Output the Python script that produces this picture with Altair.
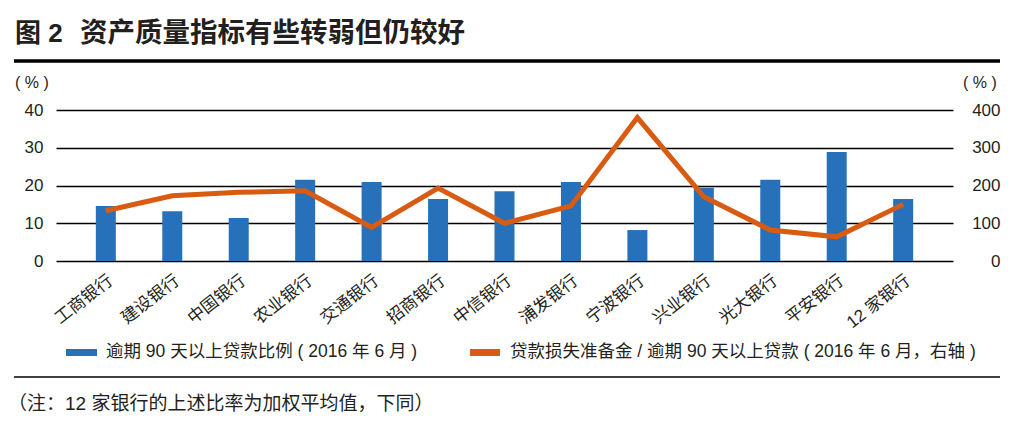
import altair as alt
import pandas as pd

banks = ["工商银行", "建设银行", "中国银行", "农业银行", "交通银行", "招商银行", "中信银行",
         "浦发银行", "宁波银行", "兴业银行", "光大银行", "平安银行", "12 家银行"]
npl90 = [14.6, 13.2, 11.4, 21.5, 20.9, 16.4, 18.5, 20.9, 8.2, 19.4, 21.5, 28.9, 16.4]
coverage = [133, 173, 182, 186, 89, 193, 100, 146, 380, 170, 82, 64, 150]
left_ticks = [0, 10, 20, 30, 40]
right_ticks = [0, 100, 200, 300, 400]

title_num = "图 2"
title_text = "资产质量指标有些转弱但仍较好"
legend_bar = "逾期 90 天以上贷款比例 ( 2016 年 6 月 )"
legend_line = "贷款损失准备金 / 逾期 90 天以上贷款 ( 2016 年 6 月，右轴 )"
note_text = "（注：12 家银行的上述比率为加权平均值，下同）"
unit_text = "( % )"

FONT = "Liberation Sans, Noto Sans CJK SC"
BLUE = "#2671BA"
ORANGE = "#D95B12"
TXT = "#231F20"

df = pd.DataFrame({"bank": banks, "npl": npl90, "cov": coverage})
one = pd.DataFrame({"k": [0]})

xenc = alt.X("bank:N", sort=banks,
             scale=alt.Scale(paddingInner=0, paddingOuter=0.25),
             axis=alt.Axis(title=None, labelAngle=-38, labelAlign="right", labelBaseline="top",
                           labelPadding=11, labelFontSize=17, domain=False, ticks=False,
                           labelColor=TXT, labelFont=FONT, labelOverlap=False))

bars = alt.Chart(df).mark_bar(size=20, color=BLUE).encode(
    x=xenc,
    y=alt.Y("npl:Q", scale=alt.Scale(domain=[0, 40]),
            axis=alt.Axis(title=None, values=left_ticks, domain=False, ticks=False, grid=True,
                          gridColor="black", gridWidth=1.5, labelFontSize=17, labelPadding=13,
                          labelColor=TXT, labelFont=FONT)),
)

line = alt.Chart(df).mark_line(color=ORANGE, strokeWidth=5, strokeJoin="miter").encode(
    x=alt.X("bank:N", sort=banks),
    y=alt.Y("cov:Q", scale=alt.Scale(domain=[0, 400]),
            axis=alt.Axis(title=None, orient="right", values=right_ticks, domain=False,
                          ticks=False, grid=False, labelFontSize=17, labelPadding=47,
                          labelAlign="right", labelColor=TXT, labelFont=FONT)),
)

def txt(s, x, y, size=17, weight="normal", baseline="middle", align="left"):
    return alt.Chart(one).mark_text(font=FONT, fontSize=size, fontWeight=weight, color=TXT,
                                    baseline=baseline, align=align).encode(
        x=alt.value(x), y=alt.value(y), text=alt.value(s))

def rule(x1, x2, y, w):
    return alt.Chart(one).mark_rule(color="black", strokeWidth=w).encode(
        x=alt.value(x1), x2=alt.value(x2), y=alt.value(y))

def swatch(x1, x2, y1, y2, c):
    return alt.Chart(one).mark_rect(color=c).encode(
        x=alt.value(x1), x2=alt.value(x2), y=alt.value(y1), y2=alt.value(y2))

deco = [
    txt(title_num, -41, -68, size=26, weight="bold", baseline="alphabetic"),
    txt(title_text, 24, -68, size=27.5, weight="bold", baseline="alphabetic"),
    rule(-42, 944, -49, 3.5),
    txt(unit_text, -41, -27, size=16),
    txt(unit_text, 907, -27, size=16),
    swatch(10, 41, 239, 246, BLUE),
    txt(legend_bar, 50, 242, size=17.5),
    swatch(414, 444, 239, 246, ORANGE),
    txt(legend_line, 454, 242, size=17.5),
    rule(-42, 944, 267, 1.5),
    txt(note_text, -48, 294, size=19),
]

chart = alt.layer(bars, line, *deco).resolve_scale(y="independent").properties(
    width=897, height=151,
    autosize=alt.AutoSizeParams(type="none"),
    padding={"left": 48, "top": 102, "right": 60, "bottom": 154},
    background="white",
).configure_view(stroke=None)

chart.save("out.html", embed_options={"renderer": "svg", "actions": False})
